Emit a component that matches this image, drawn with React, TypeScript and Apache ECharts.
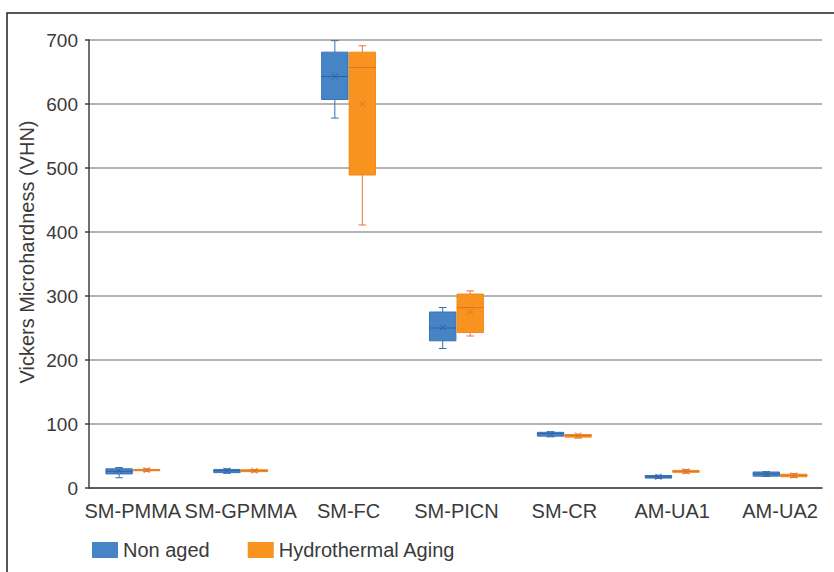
import React, { useEffect, useRef } from "react";
import * as echarts from "echarts";

const categories = ["SM-PMMA", "SM-GPMMA", "SM-FC", "SM-PICN", "SM-CR", "AM-UA1", "AM-UA2"];

// [min, Q1, median, Q3, max]
const nonAgedStats = [
  [16, 22, 26, 30, 32],
  [23, 24, 27, 29, 30],
  [578, 607, 643, 681, 699],
  [218, 230, 250, 275, 282],
  [80, 81, 85, 87, 88],
  [15, 15.5, 17.5, 19.5, 20],
  [18, 18.5, 22, 25, 25.5],
];
const nonAgedMean = [27, 27, 643, 251, 84, 17.5, 22];

const agingStats = [
  [26, 27, 28, 29, 30],
  [25, 25.5, 27, 28.5, 29],
  [411, 489, 657, 681, 691],
  [237.5, 243, 282, 303, 308],
  [78, 79.5, 82, 83.5, 84],
  [23, 24.5, 26, 27.5, 29],
  [16.5, 17.5, 19.5, 21.5, 22.5],
];
const agingMean = [28, 27, 600, 275.5, 82, 26, 19.5];

const yMin = 0;
const yMax = 700;
const yInterval = 100;

const seriesNames = ["Non aged", "Hydrothermal Aging"];

const FONT = "'Liberation Sans', Arial, sans-serif";
const TEXT = "#3a3a3a";

const BLUE = { fill: "#4784c6", stroke: "#3b72b5", line: "#3a6db0", median: "#2e62a6" };
const ORANGE = { fill: "#f7931e", stroke: "#f08a1c", line: "#e8743a", median: "#de7428" };

function buildData(stats: number[][], mean: number[]) {
  return stats.map((s, i) => [i, ...s, mean[i]]);
}

function makeRender(offset: number, col: typeof BLUE) {
  const half = 13.2;
  const cap = 3.8;
  const mx = 3;
  return (params: any, api: any) => {
    const c = api.value(0);
    const y = (v: number) => api.coord([c, v])[1];
    const x0 = api.coord([c, api.value(1)])[0];
    const cx = x0 + offset;
    const yLo = y(api.value(1));
    const yQ1 = y(api.value(2));
    const yMed = y(api.value(3));
    const yQ3 = y(api.value(4));
    const yHi = y(api.value(5));
    const yMean = y(api.value(6));
    const ls = { stroke: col.line, lineWidth: 1 };
    return {
      type: "group",
      children: [
        { type: "line", shape: { x1: cx, y1: yHi, x2: cx, y2: yQ3 }, style: ls },
        { type: "line", shape: { x1: cx, y1: yQ1, x2: cx, y2: yLo }, style: ls },
        { type: "line", shape: { x1: cx - cap, y1: yHi, x2: cx + cap, y2: yHi }, style: ls },
        { type: "line", shape: { x1: cx - cap, y1: yLo, x2: cx + cap, y2: yLo }, style: ls },
        {
          type: "rect",
          shape: { x: cx - half, y: yQ3, width: half * 2, height: Math.max(yQ1 - yQ3, 1) },
          style: { fill: col.fill, stroke: col.stroke, lineWidth: 1 },
        },
        {
          type: "line",
          shape: { x1: cx - half, y1: yMed, x2: cx + half, y2: yMed },
          style: { stroke: col.median, lineWidth: 1 },
        },
        {
          type: "line",
          shape: { x1: cx - mx, y1: yMean - mx, x2: cx + mx, y2: yMean + mx },
          style: { stroke: col.median, lineWidth: 1 },
        },
        {
          type: "line",
          shape: { x1: cx - mx, y1: yMean + mx, x2: cx + mx, y2: yMean - mx },
          style: { stroke: col.median, lineWidth: 1 },
        },
      ],
    };
  };
}

export default function App() {
  const ref = useRef<HTMLDivElement>(null);
  useEffect(() => {
    if (!ref.current) return;
    const chart = echarts.init(ref.current, undefined, { renderer: "svg" });
    const band = 108.17;
    const firstCenter = 133;
    const dataLeft = firstCenter - band / 2;
    const option: any = {
      animation: false,
      backgroundColor: "#ffffff",
      textStyle: { fontFamily: FONT, color: TEXT },
      grid: [
        { left: 89, top: 40, width: 733, height: 448, containLabel: false },
        { left: dataLeft, top: 40, width: band * categories.length, height: 448, containLabel: false },
      ],
      xAxis: [
        {
          gridIndex: 0,
          type: "value",
          min: 0,
          max: 1,
          axisLine: { show: true, onZero: false, lineStyle: { color: "#404040", width: 1.5 } },
          axisTick: { show: false },
          axisLabel: { show: false },
          splitLine: { show: false },
        },
        {
          gridIndex: 1,
          type: "category",
          data: categories,
          boundaryGap: true,
          axisLine: { show: false },
          axisTick: { show: false },
          axisLabel: { interval: 0, fontSize: 20, color: TEXT, fontFamily: FONT, margin: 13 },
          splitLine: { show: false },
        },
      ],
      yAxis: [
        {
          gridIndex: 0,
          type: "value",
          min: yMin,
          max: yMax,
          interval: yInterval,
          axisLine: { show: true, lineStyle: { color: "#404040", width: 1.5 } },
          axisTick: { show: true, inside: false, length: 4, lineStyle: { color: "#404040", width: 1.5 } },
          axisLabel: { fontSize: 19, color: TEXT, fontFamily: FONT, margin: 11 },
          splitLine: { show: true, lineStyle: { color: "#b4b4b4", width: 1.8 } },
        },
        {
          gridIndex: 1,
          type: "value",
          min: yMin,
          max: yMax,
          show: false,
        },
      ],
      legend: {
        left: 92,
        top: 540,
        padding: 0,
        itemWidth: 26,
        itemHeight: 16,
        itemGap: 38,
        textStyle: { fontSize: 20, color: TEXT, fontFamily: FONT },
        data: [
          { name: seriesNames[0], icon: "rect", itemStyle: { color: BLUE.fill, borderWidth: 0 } },
          { name: seriesNames[1], icon: "rect", itemStyle: { color: ORANGE.fill, borderWidth: 0 } },
        ],
      },
      graphic: [
        {
          type: "rect",
          shape: { x: 7, y: 13, width: 900, height: 700 },
          style: { fill: "none", stroke: "#222222", lineWidth: 1.5 },
          silent: true,
        },
        {
          type: "text",
          x: 27,
          y: 252,
          rotation: Math.PI / 2,
          style: {
            text: "Vickers Microhardness (VHN)",
            fontSize: 20,
            fontFamily: FONT,
            fill: TEXT,
            align: "center",
            verticalAlign: "middle",
          },
        },
      ],
      series: [
        {
          name: seriesNames[0],
          type: "custom",
          xAxisIndex: 1,
          yAxisIndex: 1,
          itemStyle: { color: BLUE.fill },
          encode: { x: 0, y: [1, 2, 3, 4, 5, 6] },
          renderItem: makeRender(-13.75, BLUE),
          data: buildData(nonAgedStats, nonAgedMean),
          z: 3,
        },
        {
          name: seriesNames[1],
          type: "custom",
          xAxisIndex: 1,
          yAxisIndex: 1,
          itemStyle: { color: ORANGE.fill },
          encode: { x: 0, y: [1, 2, 3, 4, 5, 6] },
          renderItem: makeRender(13.75, ORANGE),
          data: buildData(agingStats, agingMean),
          z: 3,
        },
      ],
    };
    chart.setOption(option);
    return () => chart.dispose();
  }, []);
  return (
    <div
      ref={ref}
      style={{ position: "absolute", left: 0, top: 0, width: 834, height: 572, background: "#fff" }}
    />
  );
}
